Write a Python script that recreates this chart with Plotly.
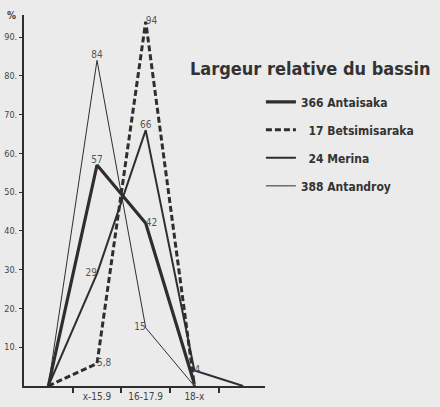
import plotly.graph_objects as go

# Data
x_pos = [0, 1, 2, 3, 4]
cat_labels = ["x-15.9", "16-17.9", "18-x"]
cat_pos = [1, 2, 3]
bound_pos = [0.5, 1.5, 2.5, 3.5]

antaisaka = [0, 57, 42, 0.5]
betsimisaraka = [0, 5.8, 94, 0]
merina = [0, 29, 66, 4, 0]
antandroy = [0, 84, 15, 0]

antaisaka_txt = ["", "57", "42", ""]
betsi_txt = ["", "5,8", "94", ""]
merina_txt = ["", "29", "66", "4", ""]
antandroy_txt = ["", "84", "15", ""]

y_ticks = [10, 20, 30, 40, 50, 60, 70, 80, 90]
y_ticktext = [f"{v}." for v in y_ticks]

INK = "#2e2e2e"
LBL = "#555555"
BG = "#ebebeb"
COND = "DejaVu Sans Condensed, DejaVu Sans"
lblfont = dict(family=COND, size=10, color=LBL)

fig = go.Figure()
fig.add_trace(go.Scatter(
    x=x_pos[:4], y=antaisaka, mode="lines+text", name="366 Antaisaka",
    line=dict(color=INK, width=3.2), text=antaisaka_txt,
    textposition=["top center", "top center", "middle right", "top center"],
    textfont=lblfont, legendgroup="a"))
fig.add_trace(go.Scatter(
    x=x_pos[:4], y=betsimisaraka, mode="lines+text", name="  17 Betsimisaraka",
    line=dict(color=INK, width=3, dash="6px,3px"), text=betsi_txt,
    textposition=["top center", "middle right", "middle right", "top center"],
    textfont=lblfont, legendgroup="b"))
fig.add_trace(go.Scatter(
    x=x_pos, y=merina, mode="lines+text", name="  24 Merina",
    line=dict(color=INK, width=2), text=merina_txt,
    textposition=["top center", "middle left", "top center", "middle right", "top center"],
    textfont=lblfont, legendgroup="c"))
fig.add_trace(go.Scatter(
    x=x_pos[:4], y=antandroy, mode="lines+text", name="388 Antandroy",
    line=dict(color=INK, width=1), text=antandroy_txt,
    textposition=["top center", "top center", "middle left", "top center"],
    textfont=lblfont, legendgroup="d"))

fig.update_layout(
    width=440, height=407,
    margin=dict(l=24, r=175, t=15, b=21, autoexpand=False),
    paper_bgcolor=BG, plot_bgcolor=BG,
    showlegend=True,
    legend=dict(x=0.983, y=0.805, xanchor="left", yanchor="top",
                bgcolor="rgba(0,0,0,0)", traceorder="grouped", tracegroupgap=9,
                font=dict(family=COND, size=12, color="#333333", weight="bold")),
    xaxis=dict(range=[-0.5, 4.45], showgrid=False, zeroline=False, automargin=False,
               showline=True, linecolor=INK, linewidth=2,
               tickvals=cat_pos, ticktext=cat_labels, ticks="",
               tickfont=dict(family=COND, size=10, color="#444"),
               minor=dict(tickvals=bound_pos, ticks="outside", ticklen=5, tickcolor=INK, tickwidth=1.5)),
    yaxis=dict(range=[0, 95.7], showgrid=False, zeroline=False, automargin=False,
               showline=True, linecolor=INK, linewidth=2,
               tickvals=y_ticks, ticktext=y_ticktext, ticks="outside", ticklen=3,
               tickcolor=INK, tickwidth=1.2,
               tickfont=dict(family=COND, size=9, color="#444")),
    annotations=[
        dict(text="Largeur relative du bassin", xref="paper", yref="paper",
             x=1.187, y=0.857, xanchor="center", yanchor="middle", showarrow=False,
             font=dict(family=COND, size=18, color="#333", weight="bold")),
        dict(text="%", xref="paper", yref="paper", x=-0.025, y=1.0, xanchor="right",
             yanchor="middle", showarrow=False,
             font=dict(family=COND, size=10, color="#444", weight="bold")),
    ],
)

fig.write_html("out.html", config={"displayModeBar": False},
               post_script="document.body.style.margin='0';document.body.style.background='#ebebeb';")
